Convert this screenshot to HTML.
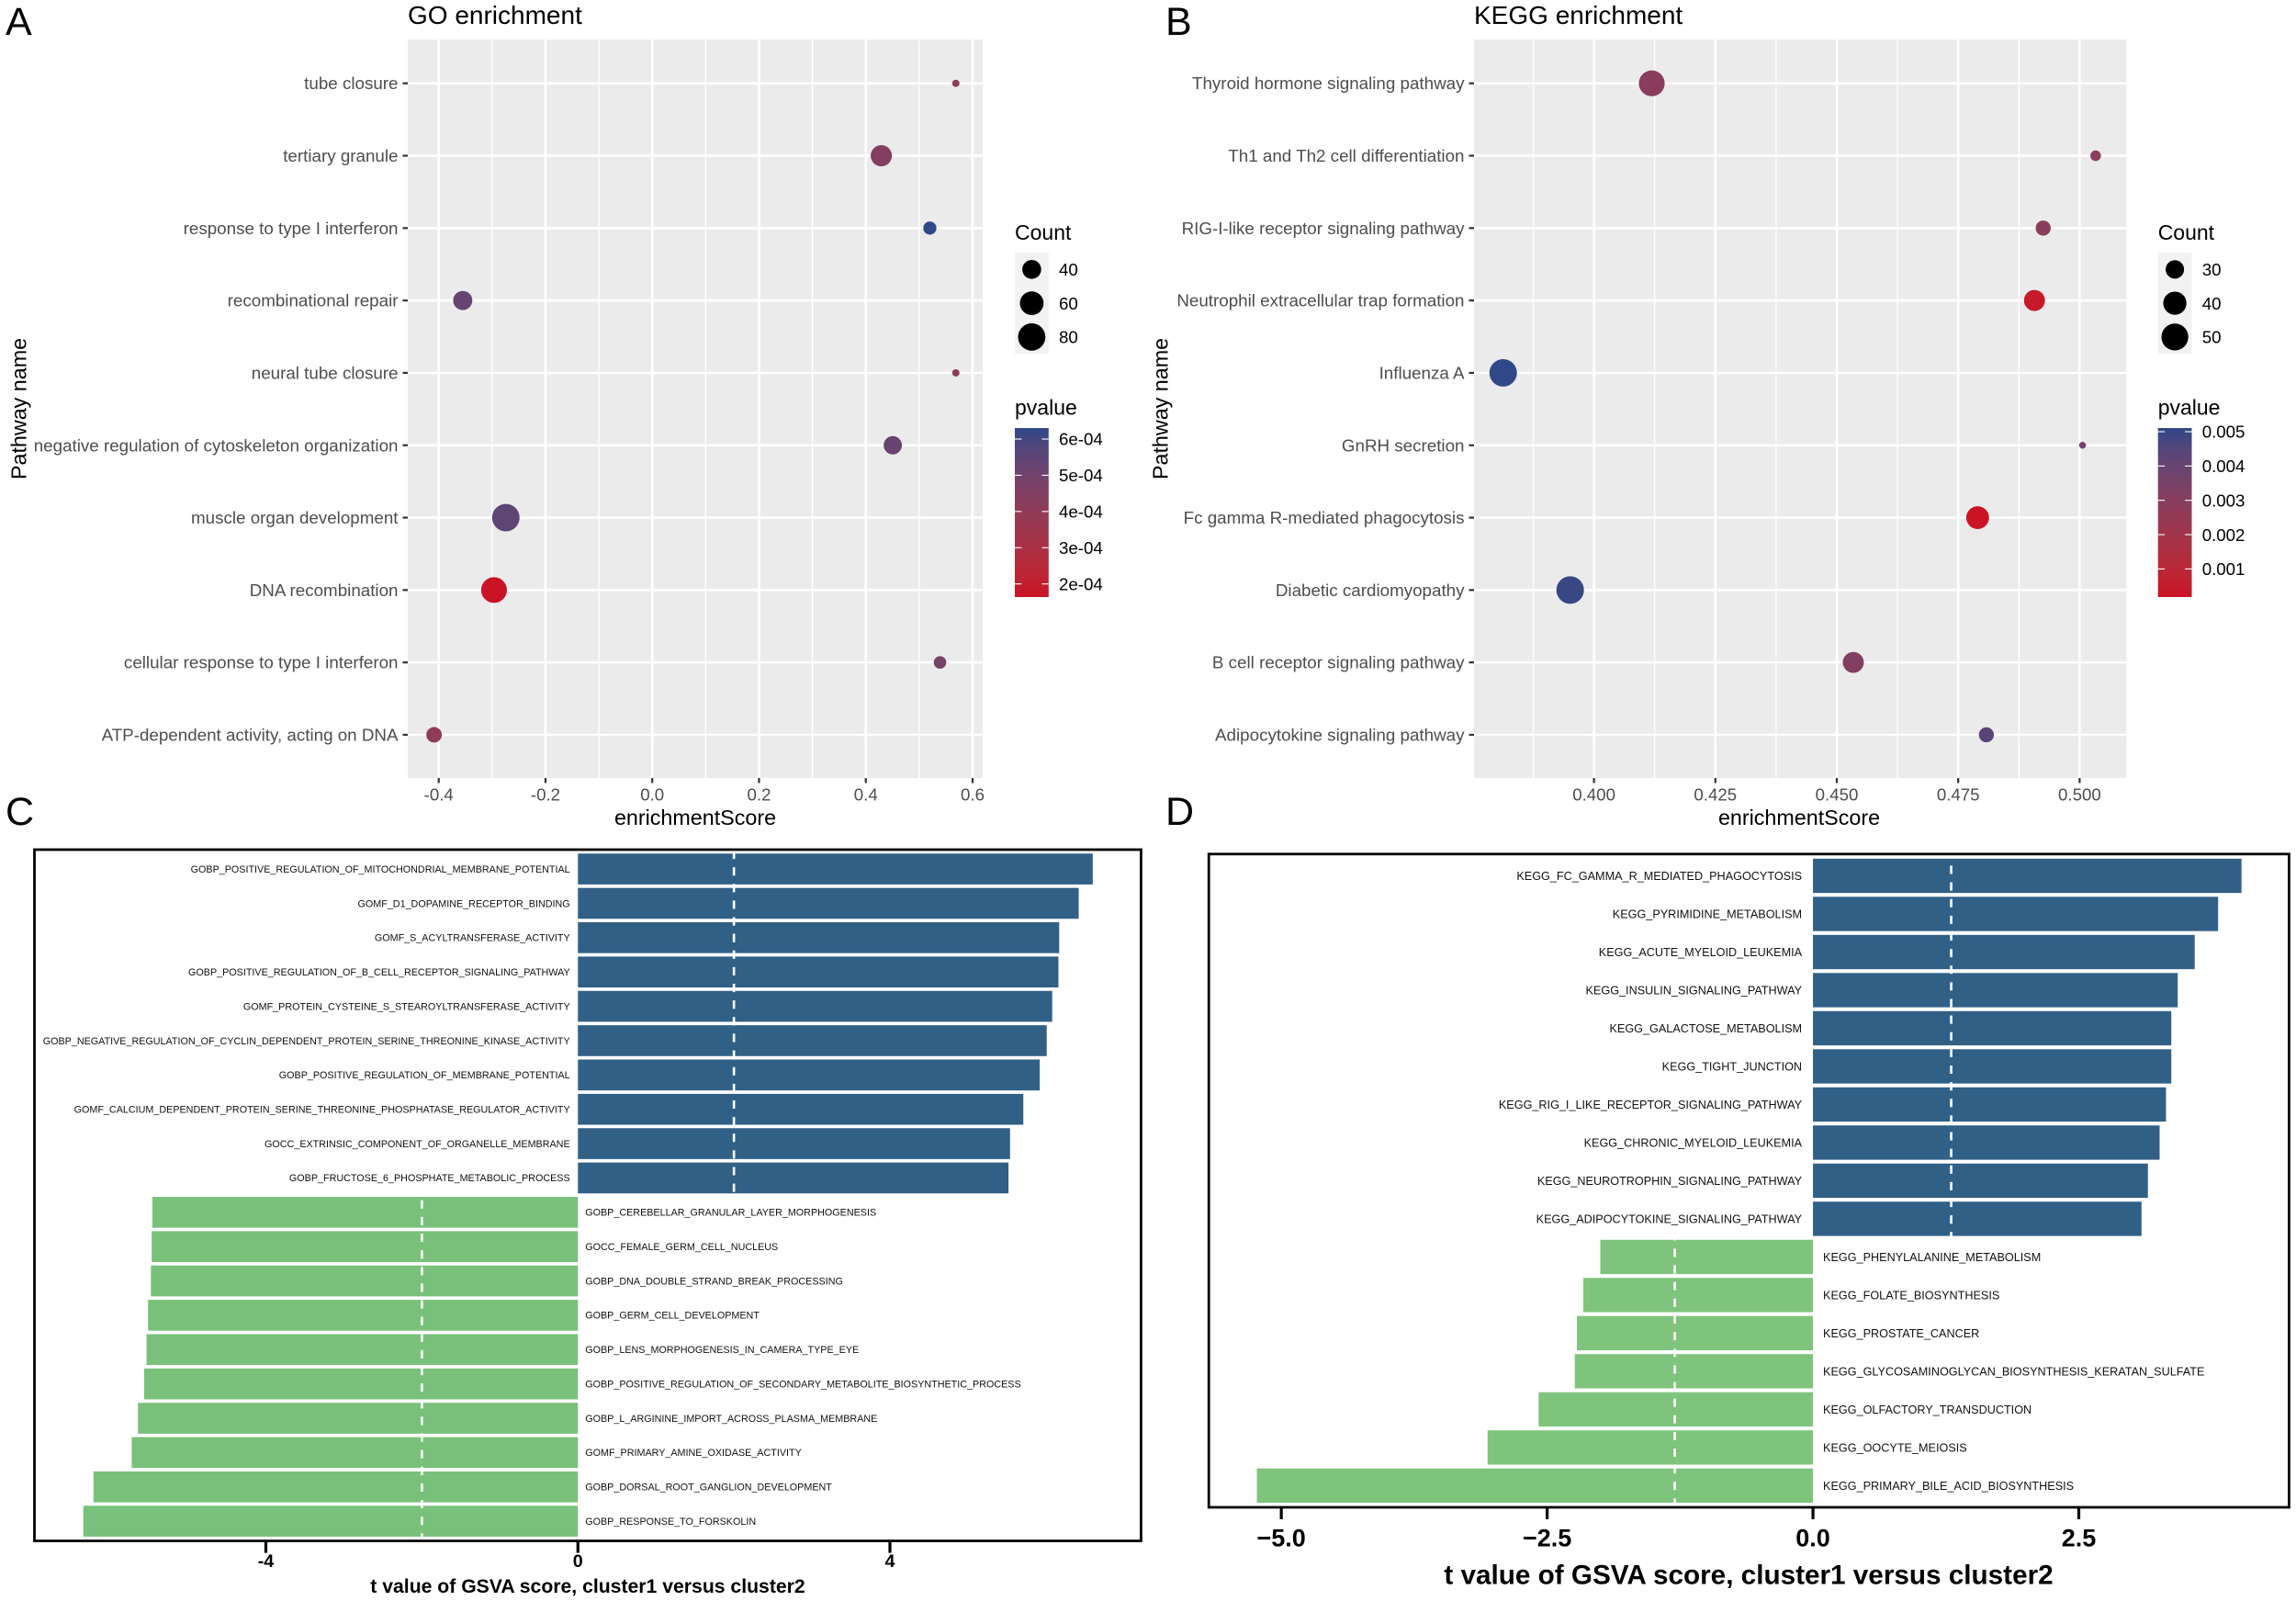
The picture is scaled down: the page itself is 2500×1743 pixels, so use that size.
<!DOCTYPE html>
<html lang="en">
<head>
<meta charset="utf-8">
<title>GO and KEGG enrichment with GSVA scores</title>
<style>
html,body{margin:0;padding:0;background:#fff;}
svg{display:block;}
text{font-family:"Liberation Sans",Arial,sans-serif;}
</style>
</head>
<body>
<svg id="figure" xmlns="http://www.w3.org/2000/svg" width="2500" height="1743" viewBox="0 0 2500 1743">
  <rect x="0" y="0" width="2500" height="1743" fill="#ffffff"/>
  <defs id="defs"></defs>
  <text x="6" y="38" font-size="43">A</text>
  <text x="1269" y="38" font-size="43">B</text>
  <text x="6" y="898" font-size="43">C</text>
  <text x="1269" y="898" font-size="43">D</text>
  <g id="panel-a"></g>
  <g id="panel-b"></g>
  <g id="panel-c"></g>
  <g id="panel-d"></g>
</svg>
<script>
// ---------- Panel A data ----------
const goPathways = ["tube closure","tertiary granule","response to type I interferon","recombinational repair","neural tube closure","negative regulation of cytoskeleton organization","muscle organ development","DNA recombination","cellular response to type I interferon","ATP-dependent activity, acting on DNA"];
const goScores = [0.5686,0.429,0.52,-0.355,0.5686,0.4505,-0.2743,-0.2964,0.539,-0.4087];
const goCounts = [20,49,25,41,20,38,81,71,24,30];
const goPvalues = [4.1e-4,4.4e-4,6.3e-4,5.3e-4,4.1e-4,5.2e-4,5.5e-4,1.65e-4,4.8e-4,4.0e-4];
const goXTicks = [-0.4,-0.2,0,0.2,0.4,0.6];
const goXTickLabels = ["-0.4","-0.2","0.0","0.2","0.4","0.6"];
const goCountBreaks = [40,60,80];
const goPvalueBreaks = [6e-4,5e-4,4e-4,3e-4,2e-4];
const goPvalueLabels = ["6e-04","5e-04","4e-04","3e-04","2e-04"];

// ---------- Panel B data ----------
const keggPathways = ["Thyroid hormone signaling pathway","Th1 and Th2 cell differentiation","RIG-I-like receptor signaling pathway","Neutrophil extracellular trap formation","Influenza A","GnRH secretion","Fc gamma R-mediated phagocytosis","Diabetic cardiomyopathy","B cell receptor signaling pathway","Adipocytokine signaling pathway"];
const keggScores = [0.4119,0.5033,0.4925,0.4907,0.3813,0.5006,0.479,0.3951,0.4534,0.4808];
const keggCounts = [47,21,25,35,52,20,39,52,35,25];
const keggPvalues = [0.0029,0.0029,0.0029,0.0004,0.0051,0.0036,0.0002,0.005,0.0032,0.0044];
const keggXTicks = [0.4,0.425,0.45,0.475,0.5];
const keggXTickLabels = ["0.400","0.425","0.450","0.475","0.500"];
const keggCountBreaks = [30,40,50];
const keggPvalueBreaks = [0.005,0.004,0.003,0.002,0.001];
const keggPvalueLabels = ["0.005","0.004","0.003","0.002","0.001"];

// ---------- Panel C data ----------
const gsvaGoTerms = ["GOBP_POSITIVE_REGULATION_OF_MITOCHONDRIAL_MEMBRANE_POTENTIAL","GOMF_D1_DOPAMINE_RECEPTOR_BINDING","GOMF_S_ACYLTRANSFERASE_ACTIVITY","GOBP_POSITIVE_REGULATION_OF_B_CELL_RECEPTOR_SIGNALING_PATHWAY","GOMF_PROTEIN_CYSTEINE_S_STEAROYLTRANSFERASE_ACTIVITY","GOBP_NEGATIVE_REGULATION_OF_CYCLIN_DEPENDENT_PROTEIN_SERINE_THREONINE_KINASE_ACTIVITY","GOBP_POSITIVE_REGULATION_OF_MEMBRANE_POTENTIAL","GOMF_CALCIUM_DEPENDENT_PROTEIN_SERINE_THREONINE_PHOSPHATASE_REGULATOR_ACTIVITY","GOCC_EXTRINSIC_COMPONENT_OF_ORGANELLE_MEMBRANE","GOBP_FRUCTOSE_6_PHOSPHATE_METABOLIC_PROCESS","GOBP_CEREBELLAR_GRANULAR_LAYER_MORPHOGENESIS","GOCC_FEMALE_GERM_CELL_NUCLEUS","GOBP_DNA_DOUBLE_STRAND_BREAK_PROCESSING","GOBP_GERM_CELL_DEVELOPMENT","GOBP_LENS_MORPHOGENESIS_IN_CAMERA_TYPE_EYE","GOBP_POSITIVE_REGULATION_OF_SECONDARY_METABOLITE_BIOSYNTHETIC_PROCESS","GOBP_L_ARGININE_IMPORT_ACROSS_PLASMA_MEMBRANE","GOMF_PRIMARY_AMINE_OXIDASE_ACTIVITY","GOBP_DORSAL_ROOT_GANGLION_DEVELOPMENT","GOBP_RESPONSE_TO_FORSKOLIN"];
const gsvaGoValues = [6.60,6.42,6.17,6.16,6.08,6.01,5.92,5.71,5.54,5.52,-5.455,-5.464,-5.474,-5.51,-5.53,-5.56,-5.64,-5.72,-6.21,-6.34];
const gsvaGoTicks = [-4,0,4];
const gsvaGoTickLabels = ["-4","0","4"];
const gsvaGoThreshold = 2.0;

// ---------- Panel D data ----------
const gsvaKeggTerms = ["KEGG_FC_GAMMA_R_MEDIATED_PHAGOCYTOSIS","KEGG_PYRIMIDINE_METABOLISM","KEGG_ACUTE_MYELOID_LEUKEMIA","KEGG_INSULIN_SIGNALING_PATHWAY","KEGG_GALACTOSE_METABOLISM","KEGG_TIGHT_JUNCTION","KEGG_RIG_I_LIKE_RECEPTOR_SIGNALING_PATHWAY","KEGG_CHRONIC_MYELOID_LEUKEMIA","KEGG_NEUROTROPHIN_SIGNALING_PATHWAY","KEGG_ADIPOCYTOKINE_SIGNALING_PATHWAY","KEGG_PHENYLALANINE_METABOLISM","KEGG_FOLATE_BIOSYNTHESIS","KEGG_PROSTATE_CANCER","KEGG_GLYCOSAMINOGLYCAN_BIOSYNTHESIS_KERATAN_SULFATE","KEGG_OLFACTORY_TRANSDUCTION","KEGG_OOCYTE_MEIOSIS","KEGG_PRIMARY_BILE_ACID_BIOSYNTHESIS"];
const gsvaKeggValues = [4.03,3.81,3.59,3.43,3.37,3.37,3.32,3.26,3.15,3.09,-2.00,-2.16,-2.22,-2.24,-2.58,-3.06,-5.23];
const gsvaKeggTicks = [-5,-2.5,0,2.5];
const gsvaKeggTickLabels = ["\u22125.0","\u22122.5","0.0","2.5"];
const gsvaKeggThreshold = 1.3;

// ---------- helpers ----------
const NS = "http://www.w3.org/2000/svg";
function make(tag, attrs, parent) {
  const el = document.createElementNS(NS, tag);
  for (const k in attrs) el.setAttribute(k, attrs[k]);
  parent.appendChild(el);
  return el;
}
function linear(d0, d1, r0, r1) {
  const f = v => r0 + (v - d0) * (r1 - r0) / (d1 - d0);
  f.invert = p => d0 + (p - r0) * (d1 - d0) / (r1 - r0);
  return f;
}
function addText(parent, name, str, x, y, size, anchor, fill, weight) {
  const el = make("text", {x: x, y: y, "font-size": size, "text-anchor": anchor, fill: fill, "font-weight": weight || "normal"}, parent);
  el.textContent = str;
  
  
  return el;
}
function addLine(parent, name, x1, y1, x2, y2, stroke, width, dash) {
  const el = make("line", {x1: x1, y1: y1, x2: x2, y2: y2, stroke: stroke, "stroke-width": width}, parent);
  if (dash) el.setAttribute("stroke-dasharray", dash);
  
  
  return el;
}
function slug(s) {
  return s.toLowerCase().replace(/[^a-z0-9]+/g, "-").replace(/^-|-$/g, "");
}

// Colour scale interpolated in CIELAB, like ggplot2's scale_colour_gradient
function srgbToLab(rgb) {
  const lin = rgb.map(v => { const c = v / 255; return c <= 0.04045 ? c / 12.92 : Math.pow((c + 0.055) / 1.055, 2.4); });
  const X = (0.4124 * lin[0] + 0.3576 * lin[1] + 0.1805 * lin[2]) / 0.95047;
  const Y = 0.2126 * lin[0] + 0.7152 * lin[1] + 0.0722 * lin[2];
  const Z = (0.0193 * lin[0] + 0.1192 * lin[1] + 0.9505 * lin[2]) / 1.08883;
  const f = t => t > 0.008856 ? Math.cbrt(t) : 7.787 * t + 16 / 116;
  return [116 * f(Y) - 16, 500 * (f(X) - f(Y)), 200 * (f(Y) - f(Z))];
}
function labToCss(lab) {
  const fy = (lab[0] + 16) / 116;
  const fx = lab[1] / 500 + fy;
  const fz = fy - lab[2] / 200;
  const g = t => t * t * t > 0.008856 ? t * t * t : (t - 16 / 116) / 7.787;
  const X = g(fx) * 0.95047, Y = g(fy), Z = g(fz) * 1.08883;
  const lin = [3.2406 * X - 1.5372 * Y - 0.4986 * Z, -0.9689 * X + 1.8758 * Y + 0.0415 * Z, 0.0557 * X - 0.204 * Y + 1.057 * Z];
  const out = lin.map(c => {
    const v = c <= 0.0031308 ? 12.92 * c : 1.055 * Math.pow(c, 1 / 2.4) - 0.055;
    return Math.round(Math.max(0, Math.min(1, v)) * 255);
  });
  return "rgb(" + out.join(",") + ")";
}
const LOW_LAB = srgbToLab([203, 18, 38]);
const HIGH_LAB = srgbToLab([47, 72, 135]);
function mixColor(t) {
  const c = Math.max(0, Math.min(1, t));
  return labToCss(LOW_LAB.map((l, i) => l + (HIGH_LAB[i] - l) * c));
}

// ---------- dot plot ----------
function drawDotPlot(host, L, pathways, scores, counts, pvalues, xTicks, xLabels, countBreaks, pBreaks, pLabels) {
  const x = linear(xTicks[0], xTicks[xTicks.length - 1], L.xTick0, L.xTickN);
  const y = i => L.yFirst + L.yStep * i;
  const size = c => {
    const t = Math.max(0, (c - L.cMin) / (L.cMax - L.cMin));
    return L.dMin + (L.dMax - L.dMin) * Math.sqrt(t);
  };
  const pY = linear(pBreaks[0], pBreaks[pBreaks.length - 1], L.pTick0, L.pTickN);
  const pLow = pY.invert(L.barBottom);
  const pHigh = pY.invert(L.barTop);
  const color = p => mixColor((p - pLow) / (pHigh - pLow));

  const bg = make("rect", {x: L.left, y: L.top, width: L.right - L.left, height: L.bottom - L.top, fill: "#ebebeb"}, host);
  
  

  const step = xTicks[1] - xTicks[0];
  const minors = [xTicks[0] - step / 2];
  xTicks.forEach(t => minors.push(t + step / 2));
  minors.forEach(m => {
    const px = x(m);
    if (px > L.left && px < L.right) addLine(host, "x-minor-gridline", px, L.top, px, L.bottom, "#ffffff", 1.3);
  });
  xTicks.forEach((t, i) => {
    addLine(host, "x-major-gridline", x(t), L.top, x(t), L.bottom, "#ffffff", 2.5);
    addLine(host, "x-tick", x(t), L.bottom, x(t), L.bottom + 5.5, "#333333", 2.2);
    addText(host, "x-tick-label", xLabels[i], x(t), L.bottom + 24.5, 18.7, "middle", "#4d4d4d");
  });
  pathways.forEach((name, i) => {
    addLine(host, "y-major-gridline", L.left, y(i), L.right, y(i), "#ffffff", 2.5);
    addLine(host, "y-tick", L.left - 5.5, y(i), L.left, y(i), "#333333", 2.2);
    addText(host, "y-tick-label-" + slug(name), name, L.left - 10.5, y(i) + 6.5, 18.8, "end", "#4d4d4d");
  });
  pathways.forEach((name, i) => {
    const dot = make("circle", {cx: x(scores[i]), cy: y(i), r: size(counts[i]) / 2, fill: color(pvalues[i])}, host);
    
    
  });

  addText(host, "x-axis-title", "enrichmentScore", L.xTitle, 898, 23.3, "middle", "#000000");
  const yt = addText(host, "y-axis-title", "Pathway name", 0, 0, 23.3, "middle", "#000000");
  yt.setAttribute("transform", "translate(" + L.yTitle + ",445) rotate(-90)");
  addText(host, "plot-title", L.title, L.left, 26, 28, "start", "#000000");

  // size legend
  addText(host, "count-legend-title", "Count", L.legendX, 261, 23, "start", "#000000");
  const keyBg = make("rect", {x: L.legendX, y: 275, width: 36.8, height: 110, fill: "#f2f2f2"}, host);
  
  
  countBreaks.forEach((c, i) => {
    const cy = 293.3 + 36.8 * i;
    const key = make("circle", {cx: L.legendX + 18.4, cy: cy, r: size(c) / 2, fill: "#000000"}, host);
    
    
    addText(host, "count-legend-label", String(c), L.legendX + 48, cy + 6.7, 18.7, "start", "#000000");
  });

  // colour bar
  addText(host, "pvalue-legend-title", "pvalue", L.legendX, 451.5, 23, "start", "#000000");
  const defs = document.getElementById("defs");
  const grad = make("linearGradient", {id: L.gradId, x1: 0, y1: 1, x2: 0, y2: 0}, defs);
  for (let s = 0; s <= 10; s++) {
    make("stop", {offset: (s * 10) + "%", "stop-color": mixColor(s / 10)}, grad);
  }
  const bar = make("rect", {x: L.legendX, y: L.barTop, width: 36.8, height: L.barBottom - L.barTop, fill: "url(#" + L.gradId + ")"}, host);
  
  
  pBreaks.forEach((p, i) => {
    const py = pY(p);
    addLine(host, "colorbar-tick", L.legendX, py, L.legendX + 7.4, py, "#ffffff", 1.1);
    addLine(host, "colorbar-tick", L.legendX + 29.4, py, L.legendX + 36.8, py, "#ffffff", 1.1);
    addText(host, "pvalue-legend-label", pLabels[i], L.legendX + 48, py + 6.7, 18.7, "start", "#000000");
  });
}

// ---------- diverging bar chart ----------
function drawBars(host, L, terms, values, ticks, tickLabels, threshold) {
  const x = linear(L.xRef0, L.xRef1, L.xPx0, L.xPx1);
  const y = i => L.yFirst + L.yStep * i;
  const h = L.yStep * 0.9;
  terms.forEach((term, i) => {
    const v = values[i];
    const bar = make("rect", {x: Math.min(x(0), x(v)), y: y(i) - h / 2, width: Math.abs(x(v) - x(0)), height: h, fill: v >= 0 ? "#316087" : L.green}, host);
    
    
  });
  [threshold, -threshold].forEach(t => {
    addLine(host, "threshold-line", x(t), L.dashStart, x(t), L.bottom, "#ffffff", 2.6, "9.07 9.06");
  });
  terms.forEach((term, i) => {
    if (values[i] >= 0) addText(host, "bar-label", term, x(0) - L.labelGapLeft, y(i) + L.labelDy, L.labelSize, "end", "#111111");
    else addText(host, "bar-label", term, x(0) + L.labelGapRight, y(i) + L.labelDy, L.labelSize, "start", "#111111");
  });
  const frame = make("rect", {x: L.left, y: L.top, width: L.right - L.left, height: L.bottom - L.top, fill: "none", stroke: "#000000", "stroke-width": 2.8}, host);
  
  
  ticks.forEach((t, i) => {
    addLine(host, "x-tick", x(t), L.bottom, x(t), L.bottom + 13, "#000000", 3.2);
    addText(host, "x-tick-label", tickLabels[i], x(t), L.tickLabelY, L.tickSize, "middle", "#000000", "bold");
  });
  addText(host, "x-axis-title", "t value of GSVA score, cluster1 versus cluster2", L.titleX, L.titleY, L.titleSize, "middle", "#000000", "bold");
}

// ---------- render ----------
drawDotPlot(document.getElementById("panel-a"), {
  title: "GO enrichment", gradId: "grad-go",
  left: 444, right: 1070, top: 43, bottom: 847,
  xTick0: 477.7, xTickN: 1059, yFirst: 90.7, yStep: 78.81,
  xTitle: 757, yTitle: 28.5, legendX: 1105,
  cMin: 20, cMax: 87, dMin: 8, dMax: 31,
  barTop: 466, barBottom: 650, pTick0: 478, pTickN: 635.7
}, goPathways, goScores, goCounts, goPvalues, goXTicks, goXTickLabels, goCountBreaks, goPvalueBreaks, goPvalueLabels);

drawDotPlot(document.getElementById("panel-b"), {
  title: "KEGG enrichment", gradId: "grad-kegg",
  left: 1605, right: 2315.4, top: 43, bottom: 847,
  xTick0: 1735.6, xTickN: 2264.4, yFirst: 90.7, yStep: 78.81,
  xTitle: 1959, yTitle: 1271.5, legendX: 2349.7,
  cMin: 20, cMax: 53.5, dMin: 7.5, dMax: 30.5,
  barTop: 466, barBottom: 650, pTick0: 470, pTickN: 619.4
}, keggPathways, keggScores, keggCounts, keggPvalues, keggXTicks, keggXTickLabels, keggCountBreaks, keggPvalueBreaks, keggPvalueLabels);

drawBars(document.getElementById("panel-c"), {
  left: 37.5, right: 1242.4, top: 925, bottom: 1677.6,
  xRef0: -4, xRef1: 4, xPx0: 289.5, xPx1: 969,
  yFirst: 946.1, yStep: 37.37, green: "#79c17a",
  labelSize: 10.77, labelDy: 3.8, labelGapLeft: 8.6, labelGapRight: 8,
  dashStart: 926, tickSize: 19.7, tickLabelY: 1706,
  titleX: 640, titleY: 1734, titleSize: 21.2
}, gsvaGoTerms, gsvaGoValues, gsvaGoTicks, gsvaGoTickLabels, gsvaGoThreshold);

drawBars(document.getElementById("panel-d"), {
  left: 1316.2, right: 2492.4, top: 929.8, bottom: 1641,
  xRef0: -2.5, xRef1: 2.5, xPx0: 1684.6, xPx1: 2263.5,
  yFirst: 953.5, yStep: 41.49, green: "#7fc47c",
  labelSize: 12.65, labelDy: 4.5, labelGapLeft: 12, labelGapRight: 11,
  dashStart: 924.3, tickSize: 27, tickLabelY: 1683.5,
  titleX: 1904, titleY: 1724.5, titleSize: 29.7
}, gsvaKeggTerms, gsvaKeggValues, gsvaKeggTicks, gsvaKeggTickLabels, gsvaKeggThreshold);
</script>
</body>
</html>
